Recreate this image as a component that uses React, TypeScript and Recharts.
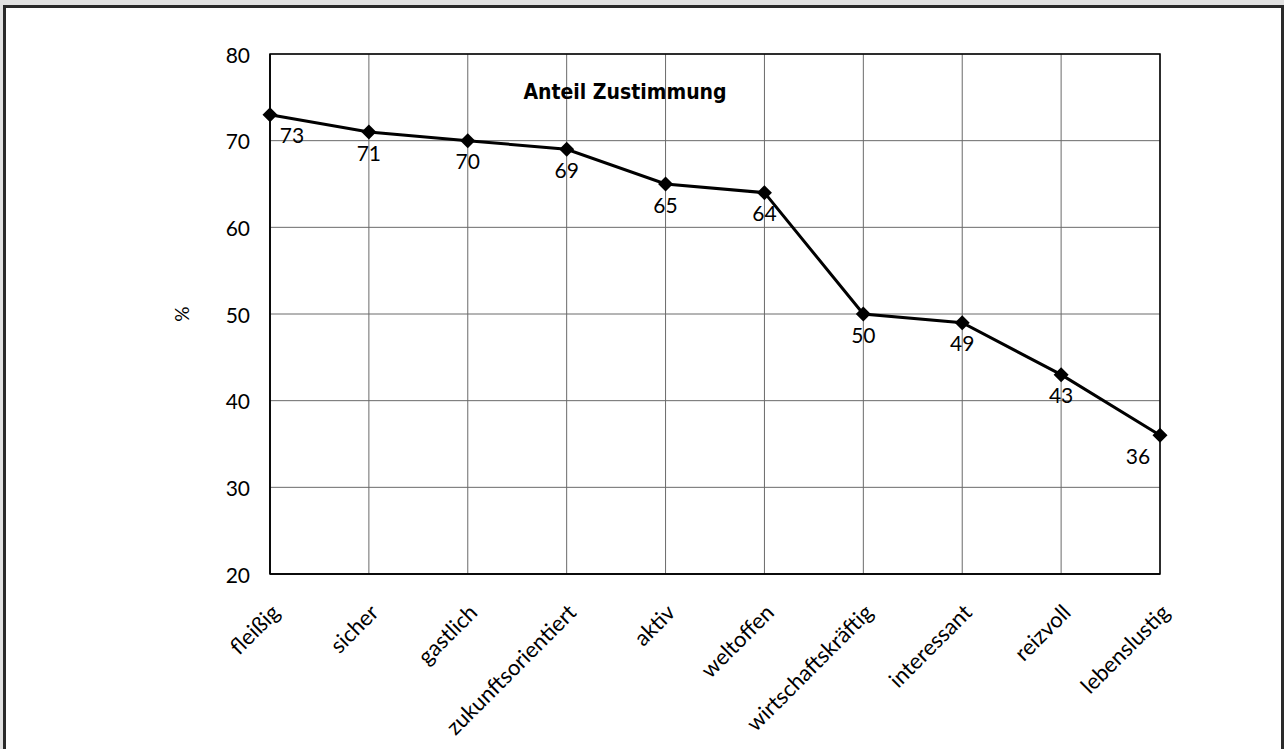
import React from 'react';
import { LineChart, Line, XAxis, YAxis, CartesianGrid, LabelList, ReferenceArea, Customized } from 'recharts';

const categories = ['fleißig', 'sicher', 'gastlich', 'zukunftsorientiert', 'aktiv', 'weltoffen', 'wirtschaftskräftig', 'interessant', 'reizvoll', 'lebenslustig'];
const values = [73, 71, 70, 69, 65, 64, 50, 49, 43, 36];
const yTicks = [20, 30, 40, 50, 60, 70, 80];
const title = 'Anteil Zustimmung';
const yLabel = '%';

const data = categories.map((c, i) => ({ name: c, value: values[i] }));

const FONT = 'Lato, "Open Sans", sans-serif';

const Diamond = (props: any) => {
  const { cx, cy } = props;
  if (cx == null || cy == null) return null;
  const r = 7.5;
  return <polygon points={`${cx},${cy - r} ${cx + r},${cy} ${cx},${cy + r} ${cx - r},${cy}`} fill="#000" />;
};

const XTick = (props: any) => {
  const { x, y, payload } = props;
  const ax = x + 5;
  const ay = y + 26;
  return (
    <text x={ax} y={ay} transform={`rotate(-45, ${ax}, ${ay})`} textAnchor="end" dominantBaseline="central" fontFamily={FONT} fontSize={22} fill="#000">
      {payload.value}
    </text>
  );
};

const YTick = (props: any) => {
  const { x, y, payload } = props;
  return (
    <text x={x} y={y} textAnchor="end" dominantBaseline="central" fontFamily={FONT} fontSize={21} fill="#000">
      {payload.value}
    </text>
  );
};

const ValueLabel = (props: any) => {
  const { x, y, value, index } = props;
  let dx = 0;
  if (index === 0) dx = 22;
  if (index === values.length - 1) dx = -22;
  return (
    <text x={x + dx} y={y + 20} textAnchor="middle" dominantBaseline="central" fontFamily={FONT} fontSize={21} fill="#000">
      {value}
    </text>
  );
};

const Extras = () => (
  <g>
    <text x={625} y={92} textAnchor="middle" dominantBaseline="central" fontFamily='"DejaVu Sans Condensed", "DejaVu Sans", sans-serif' fontWeight="bold" fontSize={21} fill="#000">
      {title}
    </text>
    <text x={181} y={314} transform="rotate(-90, 181, 314)" textAnchor="middle" dominantBaseline="central" fontFamily={FONT} fontSize={19} fill="#000">
      {yLabel}
    </text>
  </g>
);

export default function App() {
  return (
    <div style={{ position: 'fixed', left: 0, top: 0, width: 1284, height: 749, background: '#e2e2e2', overflow: 'hidden' }}>
      <div style={{ position: 'absolute', left: 3, top: 5, width: 1275, height: 770, border: '3px solid #2a2a2a', background: '#fff' }} />
      <div style={{ position: 'absolute', left: 0, top: 0 }}>
        <LineChart width={1284} height={749} data={data} margin={{ top: 54, right: 124, bottom: 75, left: 200 }}>
          <CartesianGrid stroke="#6a6a6a" strokeWidth={1} />
          <XAxis dataKey="name" tick={<XTick />} tickLine={false} axisLine={{ stroke: '#000', strokeWidth: 1.5 }} interval={0} height={100} />
          <YAxis domain={[20, 80]} ticks={yTicks} tick={<YTick />} tickLine={false} axisLine={{ stroke: '#000', strokeWidth: 1.5 }} width={70} tickMargin={14} />
          <ReferenceArea x1={categories[0]} x2={categories[categories.length - 1]} y1={20} y2={80} fill="none" stroke="#000" strokeWidth={1.5} />
          <Line type="linear" dataKey="value" stroke="#000" strokeWidth={3} dot={<Diamond />} activeDot={false} isAnimationActive={false}>
            <LabelList dataKey="value" content={<ValueLabel />} />
          </Line>
          <Customized component={Extras} />
        </LineChart>
      </div>
    </div>
  );
}
